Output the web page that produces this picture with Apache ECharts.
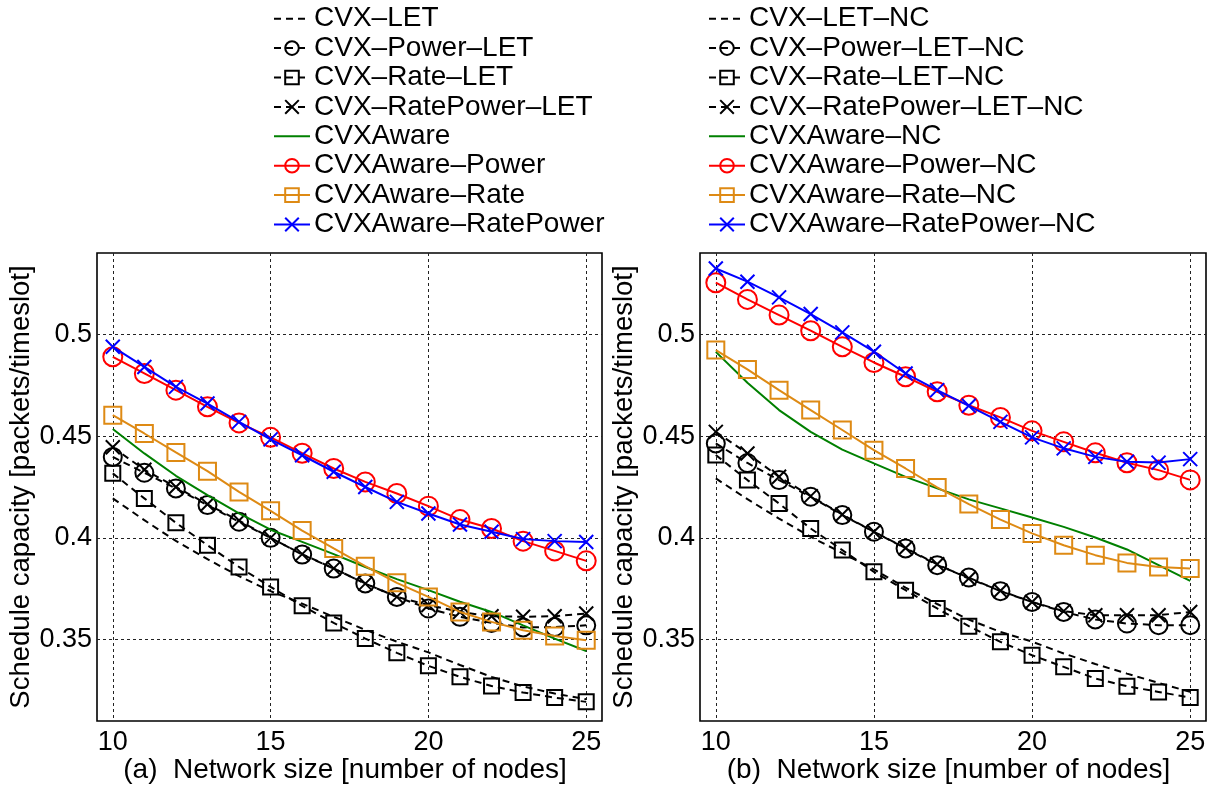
<!DOCTYPE html>
<html>
<head>
<meta charset="utf-8">
<script src="https://cdn.jsdelivr.net/npm/echarts@6/dist/echarts.min.js"></script>
<style>
  html, body { margin: 0; padding: 0; background: #fff; }
  #chart { width: 1215px; height: 787px; }
</style>
</head>
<body>
<div id="chart"></div>
<script>
// Network size (number of nodes) on the x axis
const nodes = [10, 11, 12, 13, 14, 15, 16, 17, 18, 19, 20, 21, 22, 23, 24, 25];
const xTicks = [10, 15, 20, 25];
const yTicks = [0.35, 0.4, 0.45, 0.5];

// Panel (a): schedule capacity [packets/timeslot]
const cvxLet          = [0.4194, 0.4087, 0.3985, 0.3895, 0.3812, 0.3738, 0.3677, 0.3612, 0.3548, 0.3490, 0.3437, 0.3375, 0.3317, 0.3270, 0.3235, 0.3207];
const cvxPowerLet     = [0.4398, 0.4320, 0.4243, 0.4161, 0.4079, 0.4000, 0.3918, 0.3849, 0.3776, 0.3710, 0.3653, 0.3612, 0.3582, 0.3560, 0.3562, 0.3570];
const cvxRateLet      = [0.4317, 0.4194, 0.4074, 0.3964, 0.3857, 0.3759, 0.3666, 0.3582, 0.3505, 0.3435, 0.3371, 0.3317, 0.3272, 0.3240, 0.3215, 0.3194];
const cvxRatePowerLet = [0.4445, 0.4335, 0.4250, 0.4165, 0.4085, 0.4000, 0.3920, 0.3850, 0.3775, 0.3710, 0.3670, 0.3636, 0.3615, 0.3612, 0.3615, 0.3628];
const cvxAware        = [0.4535, 0.4415, 0.4305, 0.4210, 0.4120, 0.4040, 0.3980, 0.3920, 0.3857, 0.3797, 0.3743, 0.3686, 0.3636, 0.3570, 0.3505, 0.3444];
const cvxAwarePower   = [0.4890, 0.4808, 0.4726, 0.4644, 0.4565, 0.4494, 0.4416, 0.4341, 0.4275, 0.4218, 0.4156, 0.4090, 0.4046, 0.3984, 0.3936, 0.3887];
const cvxAwareRate    = [0.4603, 0.4513, 0.4420, 0.4328, 0.4226, 0.4133, 0.4036, 0.3948, 0.3861, 0.3779, 0.3710, 0.3636, 0.3587, 0.3546, 0.3518, 0.3497];
const cvxAwareRatePow = [0.4939, 0.4840, 0.4742, 0.4660, 0.4570, 0.4484, 0.4406, 0.4325, 0.4250, 0.4177, 0.4120, 0.4066, 0.4030, 0.3994, 0.3984, 0.3980];

// Panel (b): the same schemes without the NC constraint
const cvxLetNc          = [0.4292, 0.4190, 0.4095, 0.4005, 0.3925, 0.3845, 0.3755, 0.3675, 0.3598, 0.3538, 0.3490, 0.3432, 0.3380, 0.3333, 0.3287, 0.3243];
const cvxPowerLetNc     = [0.4464, 0.4368, 0.4284, 0.4202, 0.4112, 0.4030, 0.3948, 0.3866, 0.3805, 0.3738, 0.3685, 0.3636, 0.3599, 0.3579, 0.3571, 0.3571];
const cvxRateLetNc      = [0.4407, 0.4284, 0.4169, 0.4046, 0.3940, 0.3833, 0.3743, 0.3653, 0.3566, 0.3489, 0.3423, 0.3366, 0.3309, 0.3271, 0.3243, 0.3215];
const cvxRatePowerLetNc = [0.4521, 0.4415, 0.4300, 0.4205, 0.4115, 0.4030, 0.3950, 0.3870, 0.3800, 0.3740, 0.3685, 0.3640, 0.3620, 0.3620, 0.3620, 0.3636];
const cvxAwareNc        = [0.4914, 0.4762, 0.4628, 0.4521, 0.4434, 0.4366, 0.4300, 0.4243, 0.4189, 0.4145, 0.4100, 0.4054, 0.4002, 0.3943, 0.3866, 0.3789];
const cvxAwarePowerNc   = [0.5254, 0.5172, 0.5095, 0.5018, 0.4939, 0.4862, 0.4792, 0.4718, 0.4652, 0.4592, 0.4526, 0.4472, 0.4418, 0.4369, 0.4333, 0.4285];
const cvxAwareRateNc    = [0.4923, 0.4828, 0.4726, 0.4628, 0.4530, 0.4431, 0.4341, 0.4248, 0.4166, 0.4090, 0.4022, 0.3964, 0.3915, 0.3877, 0.3857, 0.3849];
const cvxAwareRatePowNc = [0.5324, 0.5259, 0.5182, 0.5100, 0.5010, 0.4915, 0.4808, 0.4726, 0.4649, 0.4570, 0.4494, 0.4440, 0.4398, 0.4374, 0.4370, 0.4387];

const namesA = ['CVX–LET', 'CVX–Power–LET', 'CVX–Rate–LET', 'CVX–RatePower–LET',
                'CVXAware', 'CVXAware–Power', 'CVXAware–Rate', 'CVXAware–RatePower'];
const namesB = namesA.map(n => n + '–NC');
const valuesA = [cvxLet, cvxPowerLet, cvxRateLet, cvxRatePowerLet, cvxAware, cvxAwarePower, cvxAwareRate, cvxAwareRatePow];
const valuesB = [cvxLetNc, cvxPowerLetNc, cvxRateLetNc, cvxRatePowerLetNc, cvxAwareNc, cvxAwarePowerNc, cvxAwareRateNc, cvxAwareRatePowNc];

const FONT = 'Liberation Sans, Arial, Helvetica, sans-serif';
const CROSS = 'path://M0,0L20,20M20,0L0,20';
const DASH = [7, 5];

// Line/marker look of each scheme, in legend order
const styles = [
  { color: '#000000', dash: DASH,    symbol: 'none',   size: 0 },
  { color: '#000000', dash: DASH,    symbol: 'circle', size: 18 },
  { color: '#000000', dash: DASH,    symbol: 'rect',   size: 15 },
  { color: '#000000', dash: DASH,    symbol: CROSS,    size: 14 },
  { color: '#008000', dash: 'solid', symbol: 'none',   size: 0 },
  { color: '#ff0000', dash: 'solid', symbol: 'circle', size: 19 },
  { color: '#de8a14', dash: 'solid', symbol: 'rect',   size: 17 },
  { color: '#0000ff', dash: 'solid', symbol: CROSS,    size: 14 }
];

function buildSeries(names, values, idx) {
  return names.map((name, i) => {
    const s = styles[i];
    return {
      name: name,
      type: 'line',
      xAxisIndex: idx,
      yAxisIndex: idx,
      data: nodes.map((n, k) => [n, values[i][k]]),
      symbol: s.symbol,
      symbolSize: s.size,
      showSymbol: s.symbol !== 'none',
      animation: false,
      lineStyle: { color: s.color, width: 2, type: s.dash },
      itemStyle: { color: 'transparent', borderColor: s.color, borderWidth: 2 },
      emphasis: { disabled: true },
      z: 2 + i
    };
  });
}

function legendData(names) {
  return names.map((name, i) => {
    const s = styles[i];
    return {
      name: name,
      itemStyle: s.symbol === 'none'
        ? { opacity: 0 }
        : { color: 'transparent', borderColor: s.color, borderWidth: 2 },
      lineStyle: { color: s.color, width: 2, type: s.dash }
    };
  });
}

function makeLegend(names, left) {
  return {
    orient: 'vertical',
    left: left,
    top: 4,
    padding: 0,
    itemGap: 0,
    itemWidth: 36,
    itemHeight: 17,
    selectedMode: false,
    data: legendData(names),
    textStyle: { fontFamily: FONT, fontSize: 28, color: '#000', lineHeight: 29.4, padding: [0, 0, 0, -1] }
  };
}

function makeXAxis(idx, title) {
  return {
    type: 'value',
    gridIndex: idx,
    min: 9.5,
    max: 25.5,
    name: title,
    nameLocation: 'middle',
    nameGap: 35,
    nameMoveOverlap: false,
    nameTextStyle: { fontFamily: FONT, fontSize: 28, color: '#000', padding: [0, 9, 0, 0] },
    axisLine: { show: false },
    axisTick: { show: false, customValues: xTicks },
    axisLabel: { customValues: xTicks, fontFamily: FONT, fontSize: 27, color: '#000', margin: 8 },
    splitLine: { show: true, lineStyle: { color: '#222', width: 1, type: [3, 3] } }
  };
}

function makeYAxis(idx) {
  return {
    type: 'value',
    gridIndex: idx,
    min: 0.31,
    max: 0.54,
    name: 'Schedule capacity [packets/timeslot]',
    nameLocation: 'middle',
    nameGap: 62,
    nameMoveOverlap: false,
    nameTextStyle: { fontFamily: FONT, fontSize: 27.5, color: '#000' },
    axisLine: { show: false },
    axisTick: { show: false, customValues: yTicks },
    axisLabel: { customValues: yTicks, fontFamily: FONT, fontSize: 27, color: '#000', margin: 5 },
    splitLine: { show: true, lineStyle: { color: '#222', width: 1, type: [3, 3] } }
  };
}

const gridBase = { top: 253, height: 468, show: true, borderColor: '#000', borderWidth: 1.6,
                   backgroundColor: 'transparent', containLabel: false, outerBoundsMode: 'none' };

const chart = echarts.init(document.getElementById('chart'), null, { renderer: 'canvas' });
chart.setOption({
  backgroundColor: '#ffffff',
  animation: false,
  legend: [makeLegend(namesA, 273), makeLegend(namesB, 708)],
  grid: [
    Object.assign({ left: 97, width: 505 }, gridBase),
    Object.assign({ left: 700, width: 506 }, gridBase)
  ],
  xAxis: [makeXAxis(0, '(a)  Network size [number of nodes]'), makeXAxis(1, '(b)  Network size [number of nodes]')],
  yAxis: [makeYAxis(0), makeYAxis(1)],
  series: buildSeries(namesA, valuesA, 0).concat(buildSeries(namesB, valuesB, 1))
});
</script>
</body>
</html>
